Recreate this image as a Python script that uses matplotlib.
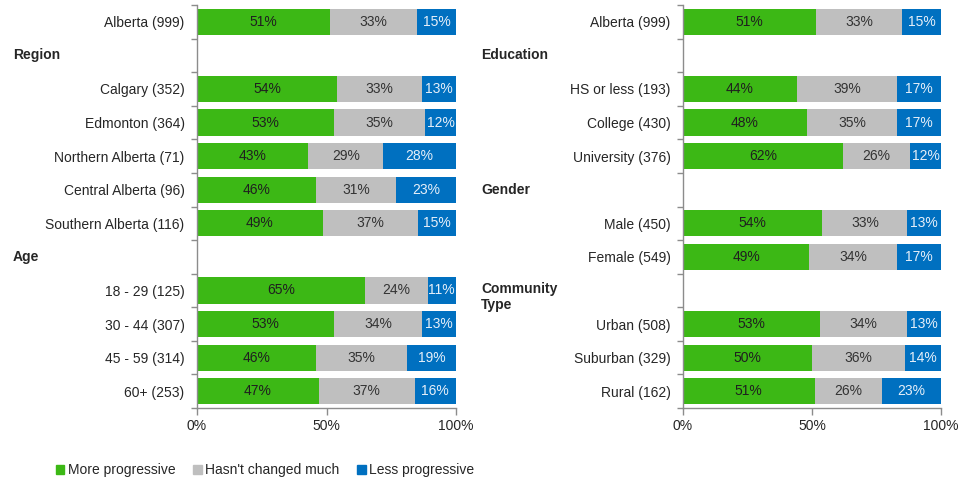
import matplotlib
matplotlib.use("Agg")
import matplotlib.pyplot as plt
from matplotlib.transforms import blended_transform_factory
import numpy as np

plt.rcParams['font.family'] = ['Liberation Sans', 'DejaVu Sans']

series_names = ["More progressive", "Hasn't changed much", "Less progressive"]
colors = ["#3cb815", "#bfbfbf", "#0070c0"]
text_colors = ["#1f1f1f", "#333333", "#e6eff9"]

# Left panel (None = section header row)
left_labels = ["Alberta (999)", "Region", "Calgary (352)", "Edmonton (364)",
               "Northern Alberta (71)", "Central Alberta (96)", "Southern Alberta (116)",
               "Age", "18 - 29 (125)", "30 - 44 (307)", "45 - 59 (314)", "60+ (253)"]
left_more = [51, None, 54, 53, 43, 46, 49, None, 65, 53, 46, 47]
left_same = [33, None, 33, 35, 29, 31, 37, None, 24, 34, 35, 37]
left_less = [15, None, 13, 12, 28, 23, 15, None, 11, 13, 19, 16]

right_labels = ["Alberta (999)", "Education", "HS or less (193)", "College (430)",
                "University (376)", "Gender", "Male (450)", "Female (549)",
                "Community\nType", "Urban (508)", "Suburban (329)", "Rural (162)"]
right_more = [51, None, 44, 48, 62, None, 54, 49, None, 53, 50, 51]
right_same = [33, None, 39, 35, 26, None, 33, 34, None, 34, 36, 26]
right_less = [15, None, 17, 17, 12, None, 13, 17, None, 13, 14, 23]

xticks = [0, 50, 100]
xticklabels = ["0%", "50%", "100%"]

W, H = 971, 480
fig = plt.figure(figsize=(W / 100, H / 100), dpi=100)

spine_c = "#8c8c8c"
fs = 10


def draw(ax_rect, labels, more, same, less, header_x):
    ax = fig.add_axes(ax_rect)
    n = len(labels)
    ax.set_ylim(n - 0.5, -0.5)
    ax.set_xlim(0, 100)
    tr = blended_transform_factory(fig.transFigure, ax.transData)
    ticklabels = []
    for i, lab in enumerate(labels):
        if more[i] is None:
            ticklabels.append("")
            yoff = 0.2 if "\n" in lab else 0
            ax.text(header_x, i + yoff, lab, transform=tr, fontsize=fs, fontweight="bold",
                    ha="left", va="center", color="#262626", linespacing=1.2)
            continue
        ticklabels.append(lab)
        vals = [more[i], same[i], less[i]]
        tot = sum(vals)
        left = 0
        for k, v in enumerate(vals):
            w = v / tot * 100
            ax.barh(i, w, left=left, height=0.78, color=colors[k], edgecolor="none")
            ax.text(left + w / 2, i, f"{v}%", ha="center", va="center",
                    fontsize=fs, color=text_colors[k])
            left += w
    ax.set_yticks(range(n))
    ax.set_yticklabels(ticklabels, fontsize=fs, color="#262626")
    ax.tick_params(axis="y", length=0, pad=9)
    ax.set_yticks(np.arange(-0.5, n, 1), minor=True)
    ax.tick_params(axis="y", which="minor", length=4, color=spine_c, width=1)
    ax.set_xticks(xticks)
    ax.set_xticklabels(xticklabels, fontsize=fs, color="#262626")
    ax.tick_params(axis="x", length=5, color=spine_c, width=1, pad=3)
    for s in ["top", "right"]:
        ax.spines[s].set_visible(False)
    for s in ["left", "bottom"]:
        ax.spines[s].set_color(spine_c)
        ax.spines[s].set_linewidth(1)
    return ax


bottom = 1 - 408 / H
top = 1 - 5 / H
draw([197 / W, bottom, 259 / W, top - bottom], left_labels, left_more, left_same, left_less, 13 / W)
draw([683 / W, bottom, 258 / W, top - bottom], right_labels, right_more, right_same, right_less, 481 / W)

handles = [plt.Rectangle((0, 0), 1, 1, color=c) for c in colors]
fig.legend(handles, series_names, loc="center", bbox_to_anchor=(265 / W, 1 - 470 / H),
           ncol=3, frameon=False, fontsize=fs, handlelength=0.6, handleheight=0.6,
           handletextpad=0.25, columnspacing=1.3, labelcolor="#262626")

fig.savefig("out.png", dpi=100)
